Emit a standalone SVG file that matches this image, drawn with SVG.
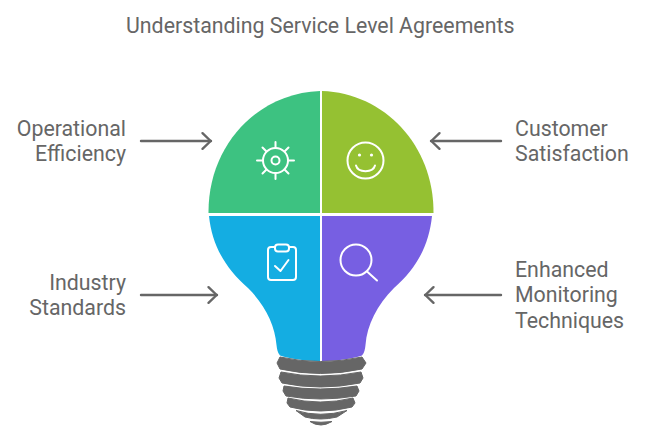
<svg xmlns="http://www.w3.org/2000/svg" width="654" height="440" viewBox="0 0 654 440">
<style>
text{font-family:Roboto,"Liberation Sans",sans-serif;font-size:21.33px;fill:#666}
.e{text-anchor:end}
.c{fill:none;stroke:#666;stroke-width:2.4;stroke-linecap:round;stroke-linejoin:round}
.i{fill:none;stroke:#fff;stroke-width:2;stroke-linecap:round;stroke-linejoin:round}
.b{fill:#666;stroke:#666;stroke-width:1;stroke-linejoin:round}
</style>
<defs><marker id="a" markerUnits="userSpaceOnUse" markerWidth="16" markerHeight="20" refX="13" refY="10" orient="auto"><path d="M4.500 2.200L12.700 10L4.500 17.800" fill="none" stroke="#666" stroke-width="2.400" stroke-linecap="round" stroke-linejoin="round"/></marker></defs>
<rect width="654" height="440" fill="#fff"/>
<text x="126" y="33">Understanding Service Level Agreements</text>
<g id="connectors">
<path class="c" d="M141 141H211" marker-end="url(#a)"/>
<path class="c" d="M501 141H431" marker-end="url(#a)"/>
<path class="c" d="M141 295H217" marker-end="url(#a)"/>
<path class="c" d="M501 295H425" marker-end="url(#a)"/>
</g>
<g id="efficiency">
<path d="M320 91V213H208.500C208 145 258 93 320 91Z" fill="#3dc281"/>
<circle class="i" cx="275.500" cy="160.500" r="12.500"/><circle class="i" cx="275.500" cy="160.500" r="4"/>
<path class="i" d="M275.500 142V148M275.500 173V179M257 160.500H263M288 160.500H294M262.500 147.500L266.500 151.500M288.500 147.500L284.500 151.500M262.500 173.500L266.500 169.500M288.500 173.500L284.500 169.500"/>
<text x="126" y="136" class="e">Operational</text><text x="126" y="161" class="e">Efficiency</text>
</g>
<g id="satisfaction">
<path d="M322 91V213H433.500C434 145 384 93 322 91Z" fill="#95c132"/>
<circle class="i" cx="365.500" cy="160.500" r="18"/>
<path class="i" d="M356 165.500C358 173 373 173 375 165.500"/>
<circle cx="359.500" cy="155" r="1.600" fill="#fff"/><circle cx="371.500" cy="155" r="1.600" fill="#fff"/>
<text x="515" y="136">Customer</text><text x="515" y="161">Satisfaction</text>
</g>
<g id="standards">
<path d="M320 216V361C306 361 290 359 280 355.500C277.500 353 277 349 276.500 345C275 325 265 305 248 288C225 268 212 245 209 216Z" fill="#14ade2"/>
<rect class="i" x="268" y="247" width="28" height="33" rx="3"/><rect x="275" y="244.500" width="14" height="7" rx="3" fill="#14ade2" stroke="#fff" stroke-width="2"/>
<path class="i" d="M275 266L280.500 271L288.500 260"/>
<text x="126" y="290" class="e">Industry</text><text x="126" y="315" class="e">Standards</text>
</g>
<g id="monitoring">
<path d="M322 216V361C336 361 352 359 362 355.500C364.500 353 365 349 365.500 345C367 325 377 305 394 288C417 268 429 245 432 216Z" fill="#775fe2"/>
<circle class="i" cx="356" cy="260" r="15.500"/><path class="i" d="M367 271.500L377 280.500"/>
<text x="515" y="276.500">Enhanced</text><text x="515" y="302">Monitoring</text><text x="515" y="328">Techniques</text>
</g>
<g id="base">
<path class="b" d="M280 357Q320 366 362 357L366 363L362 369Q320 378 280 369L277 363Z"/>
<path class="b" d="M281 372Q320 380 361 372L363 378L360 383Q320 391 282 383L279 378Z"/>
<path class="b" d="M284 386Q320 392 357 386L359 391L356 396Q320 402 286 396L283 391Z"/>
<path class="b" d="M288 398Q320 406 353 398L355 403L352 407Q320 415 290 407L287 403Z"/>
<path class="b" d="M296 410.500Q320 418 347 410.500L337 417Q320 421 305 417Z"/>
<path class="b" d="M310 421.500Q321 423 332 421.500Q326 425 321 425Q315 425 310 421.500Z"/>
</g>
</svg>
